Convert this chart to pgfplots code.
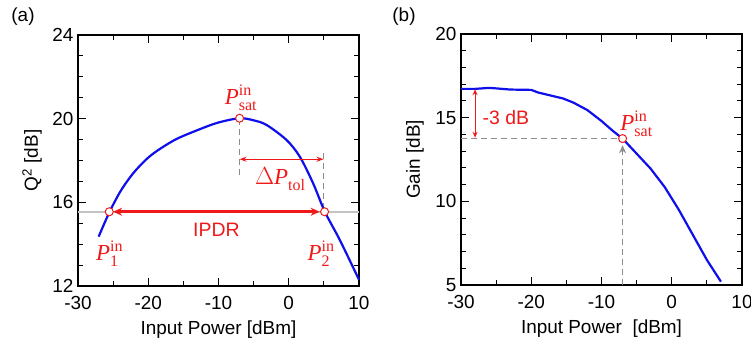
\documentclass[border=0pt]{standalone}
\usepackage{pgfplots}
\pgfplotsset{compat=1.18}
\usepackage{amsmath}
\usepackage{fontspec}
\setmainfont{Liberation Sans}
\newfontfamily\tnr{Liberation Serif}
\usetikzlibrary{arrows.meta}
\definecolor{cblue}{RGB}{15,15,235}
\definecolor{cred}{RGB}{240,25,25}
\definecolor{cgray}{RGB}{140,140,140}
\definecolor{lgray}{RGB}{195,195,195}
\newcommand{\Pv}[2]{{\tnr\itshape P}$^{\text{\tnr #1}}_{\text{\tnr #2}}$}
\newcommand{\fs}{\fontsize{19}{21}\selectfont}
\pgfplotsset{myax/.style={
  scale only axis, width=281bp, height=251bp, clip=false,
  axis line style={line width=1.3pt},
  every tick/.style={black, line width=1.1pt},
  major tick length=8bp, minor tick length=5bp, tick align=inside,
  xmin=-30, xmax=10, xtick={-30,-20,-10,0,10}, xticklabels={-30,-20,-10,0,10},
  minor x tick num=1,
  tick label style={font=\fs},
  xticklabel style={yshift=-7bp},
  yticklabel style={xshift=-1bp},
  xlabel={Input Power [dBm]},
  every axis x label/.style={at={(axis description cs:0.5,0)}, yshift=-44bp, anchor=center, font=\fs},
  every axis y label/.style={at={(axis description cs:0,0.5)}, xshift=-46bp, rotate=90, anchor=center, font=\fs},
  circ/.style={only marks, mark=*, mark size=4bp, mark options={draw=cred, fill=white, line width=1bp}},
}}
\begin{document}
\begin{tikzpicture}
\useasboundingbox (0,0) rectangle (751bp,346bp);
\node[font=\fs] at (23bp,329bp) {(a)};
\node[font=\fs] at (404bp,329bp) {(b)};
\begin{axis}[myax, at={(78bp,60bp)}, anchor=south west,
  ymin=12, ymax=24, ytick={12,16,20,24}, yticklabels={12,16,20,24}, minor y tick num=3,
  ylabel={Q\textsuperscript{2} [dB]}]
\draw[lgray, line width=1.8bp] (axis cs:-30,15.55) -- (axis cs:10,15.55);
\draw[cgray, line width=1bp, dash pattern=on 6bp off 4bp] (axis cs:-7,20) -- (axis cs:-7,17.23);
\draw[cgray, line width=1bp, dash pattern=on 6bp off 4bp] (axis cs:4.95,18.36) -- (axis cs:4.95,15.6);
\addplot[cblue, line width=2.2bp, smooth] coordinates {
(-27.06,14.36) (-25.5,15.55) (-23.84,16.59) (-21.94,17.47) (-19.57,18.26)
(-16.25,18.98) (-12.93,19.46) (-10.08,19.81) (-7,20.02) (-5,19.92)
(-3.16,19.70) (-0.31,18.98) (1.58,18.18) (3.47,16.91) (5.14,15.55)
(7.27,14.2) (10,12.3)};
\draw[cred, line width=1bp, {Stealth[length=7bp,width=5bp]}-{Stealth[length=7bp,width=5bp]}] (axis cs:-7,18.06) -- (axis cs:4.95,18.06);
\draw[cred, line width=2.6bp, {Stealth[length=9bp,width=8bp]}-{Stealth[length=9bp,width=8bp]}] (axis cs:-25.0,15.55) -- (axis cs:4.4,15.55);
\addplot[circ] coordinates {(-7,20.02) (-25.55,15.55) (5.1,15.55)};
\node[cred, font=\fontsize{23}{26}\selectfont] at (axis cs:-6.8,21.0) {\Pv{in}{sat}};
\node[cred, font=\fontsize{23}{26}\selectfont] at (axis cs:-1.2,17.1) {{\tnr$\Delta$}\Pv{}{tol}};
\node[cred, font=\fontsize{23}{26}\selectfont] at (axis cs:-25.5,13.55) {\Pv{in}{1}};
\node[cred, font=\fontsize{23}{26}\selectfont] at (axis cs:4.6,13.55) {\Pv{in}{2}};
\node[cred, font=\fontsize{19.5}{21}\selectfont] at (axis cs:-10.3,14.7) {IPDR};
\end{axis}
\begin{axis}[myax, at={(461bp,61bp)}, anchor=south west,
  ymin=5, ymax=20, ytick={5,10,15,20}, yticklabels={5,10,15,20}, minor y tick num=4,
  ylabel={Gain [dB]}, xlabel={Input Power\ \ [dBm]}]
\draw[cgray, line width=1bp, dash pattern=on 6bp off 4bp] (axis cs:-30,13.75) -- (axis cs:-7,13.75);
\draw[cgray, line width=1bp, dash pattern=on 6bp off 4bp, -{Stealth[length=8bp,width=7bp]}] (axis cs:-7,5) -- (axis cs:-7,13.35);
\addplot[cblue, line width=2.2bp] coordinates {
(-30,16.72) (-28,16.72) (-26,16.78) (-25,16.75) (-23,16.68) (-20,16.66)
(-19,16.5) (-17,16.3) (-15.5,16.15) (-14,15.9) (-12,15.45) (-10,14.8)
(-8.5,14.25) (-7,13.75) (-5,12.85) (-3,11.95) (-1,10.85) (1,9.5)
(3,8.0) (5,6.5) (7,5.2)};
\draw[cred, line width=1bp, {Stealth[length=6bp,width=5bp]}-{Stealth[length=6bp,width=5bp]}] (axis cs:-28,16.7) -- (axis cs:-28,13.8);
\addplot[circ] coordinates {(-7,13.75)};
\node[cred, font=\fontsize{19.5}{21}\selectfont] at (axis cs:-23.6,15.0) {-3 dB};
\node[cred, font=\fontsize{23}{26}\selectfont] at (axis cs:-5.0,14.65) {\Pv{in}{sat}};
\end{axis}
\end{tikzpicture}
\end{document}
